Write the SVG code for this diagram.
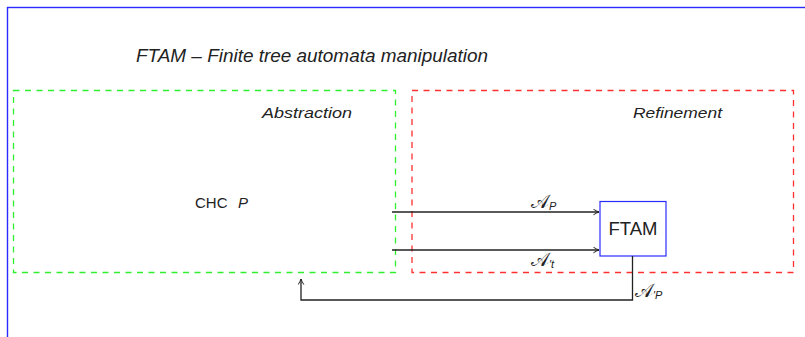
<svg xmlns="http://www.w3.org/2000/svg" width="805" height="337" viewBox="0 0 805 337">
<defs>
<style>
.lbl{font-family:"Liberation Sans","DejaVu Sans",sans-serif;font-style:italic;font-size:15px;fill:#222}
.rm{font-family:"Liberation Sans","DejaVu Sans",sans-serif;fill:#222}
.math{font-family:"DejaVu Serif","Liberation Serif",serif;font-style:italic;fill:#222}
.scr{font-family:"DejaVu Serif","Liberation Serif",serif;font-style:normal;fill:#222;font-size:19px}
.sub{font-family:"Liberation Sans","DejaVu Sans",sans-serif;font-style:italic;font-size:11px}
.conn{fill:none;stroke:#222;stroke-width:1.3}
.dash{fill:none;stroke-width:1.3;stroke-dasharray:6 5.5}
</style>
<marker id="arr" viewBox="0 0 10 10" refX="9" refY="5" markerWidth="7" markerHeight="7" markerUnits="userSpaceOnUse" orient="auto">
<path d="M1,1 Q6,4 9,5 Q6,6 1,9" fill="none" stroke="#222" stroke-width="1.4"/>
</marker>
</defs>
<rect x="0" y="0" width="805" height="337" fill="#fff"/>
<rect x="7.5" y="7.5" width="820" height="360" fill="none" stroke="#2a2aff" stroke-width="1.4"/>
<text class="lbl" x="136" y="62" textLength="352" lengthAdjust="spacingAndGlyphs" style="font-size:19px">FTAM – Finite tree automata manipulation</text>
<g id="abstraction">
<rect class="dash" x="13.5" y="90.5" width="382" height="182" stroke="#2fef2f"/>
<text class="lbl" x="262" y="118" textLength="90" lengthAdjust="spacingAndGlyphs">Abstraction</text>
</g>
<g id="refinement">
<rect class="dash" x="412" y="90.5" width="381.5" height="182" stroke="#ff3030"/>
<text class="lbl" x="633" y="118" textLength="89" lengthAdjust="spacingAndGlyphs">Refinement</text>
</g>
<g id="chc">
<text class="rm" x="195" y="208" style="font-size:15px">CHC <tspan class="lbl" x="238" style="font-size:15px">P</tspan></text>
</g>
<g id="ftam">
<rect x="600" y="201.5" width="66" height="54.5" fill="#fff" stroke="#2a2aff" stroke-width="1.2"/>
<text class="rm" x="633" y="235" text-anchor="middle" style="font-size:18.5px">FTAM</text>
</g>
<g id="connectors">
<line class="conn" x1="392" y1="212" x2="599" y2="212" marker-end="url(#arr)"/>
<line class="conn" x1="392" y1="250" x2="599" y2="250" marker-end="url(#arr)"/>
<polyline class="conn" points="632.5,256 632.5,300 301,300 301,279" marker-end="url(#arr)"/>
<text class="scr" x="531" y="208">𝒜<tspan class="sub" dy="2">P</tspan></text>
<text class="scr" x="531" y="266">𝒜<tspan class="sub" dy="2">′t</tspan></text>
<text class="scr" x="635" y="297">𝒜<tspan class="sub" dy="2">′P</tspan></text>
</g>
</svg>
